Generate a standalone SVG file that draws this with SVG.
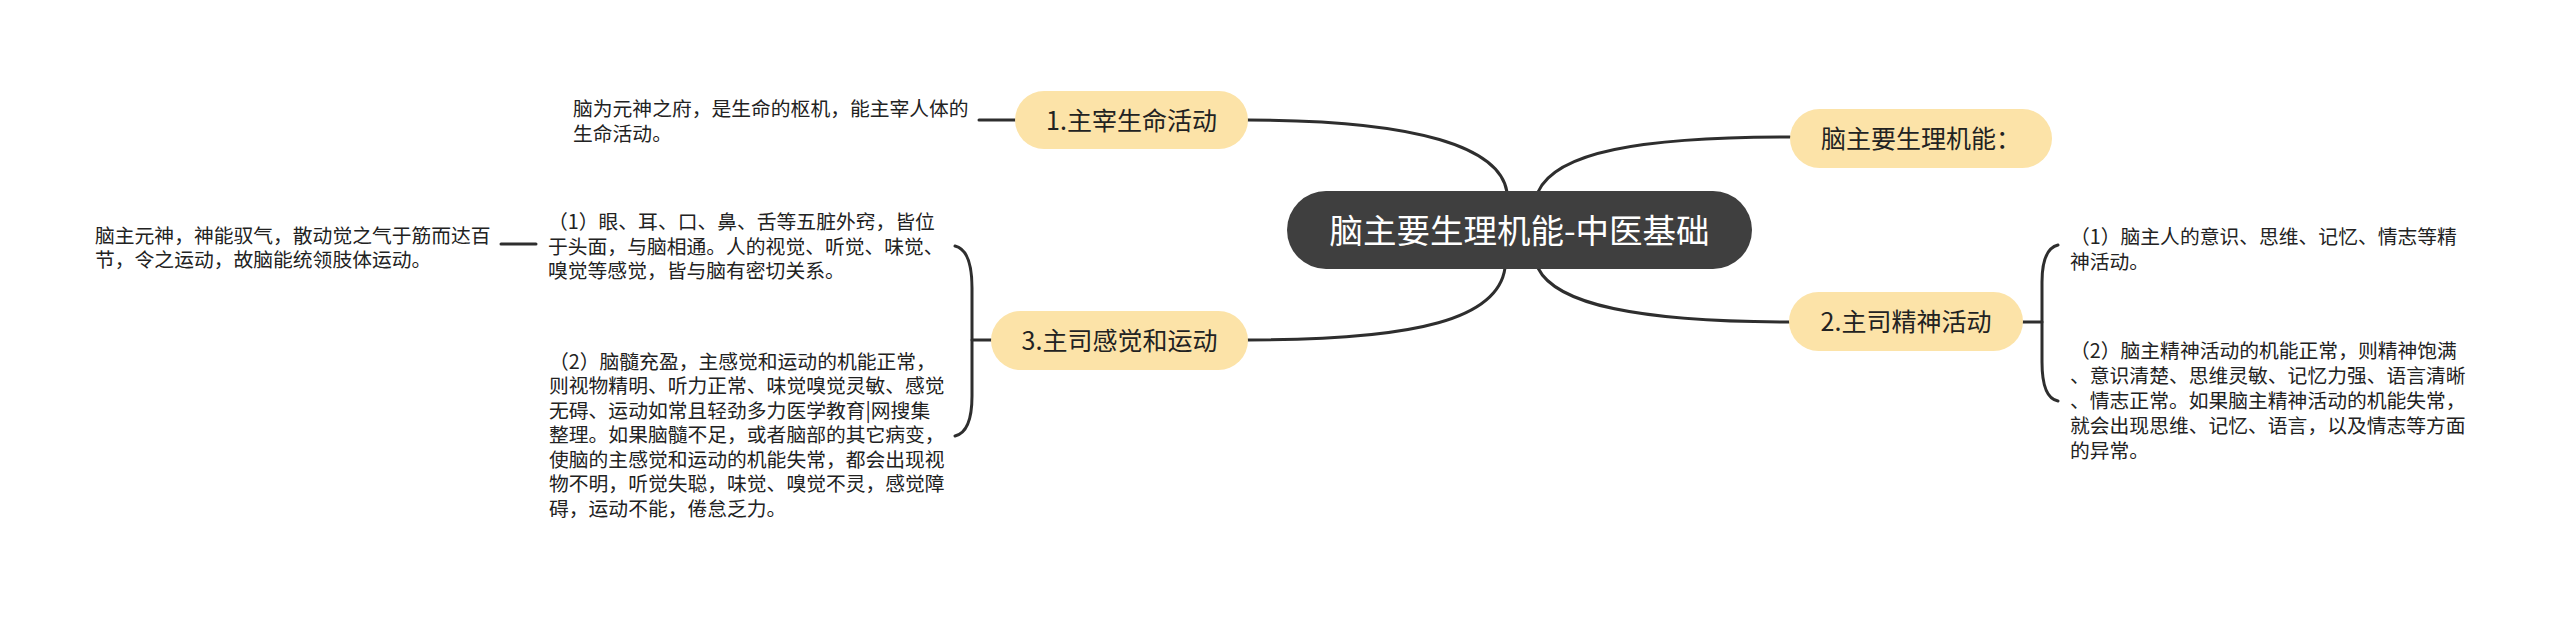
<svg xmlns="http://www.w3.org/2000/svg" width="2560" height="619" viewBox="0 0 2560 619">
<style>
.bg{fill:#ffffff}
.conn path{fill:none;stroke:#2e2e2e;stroke-width:3;stroke-linecap:round}
.topic{fill:#fce3a8}
.root{fill:#3f3f3f}
.tt{font-family:"Noto Sans CJK SC","Noto Sans",sans-serif;font-size:25px;fill:#222;text-anchor:middle}
.rt{font-family:"Noto Sans CJK SC","Noto Sans",sans-serif;font-size:33.5px;fill:#ffffff;text-anchor:middle}
.nt{font-family:"Noto Sans CJK SC","Noto Sans",sans-serif;font-size:19.8px;fill:#222}
</style>
<rect class="bg" x="0" y="0" width="2560" height="619"/>
<g id="connectors" class="conn">
<path d="M1507 192 C1500 148 1420 120 1248 120"/>
<path d="M1538 192 C1556 152 1640 137 1790 137"/>
<path d="M1538 268 C1556 305 1640 322 1789 322"/>
<path d="M1505 268 C1498 318 1420 340 1248 340"/>
<path d="M1015 120 L979 120"/>
<path d="M991 340 L972 340"/>
<path d="M955 246 Q972 250 972 288 L972 396 Q972 432 955 436"/>
<path d="M536 244 L501 244"/>
<path d="M2023 322 L2042 322"/>
<path d="M2058 245 Q2042 249 2042 282 L2042 362 Q2042 398 2058 401"/>
</g>
<g id="root">
<rect class="root" x="1287" y="191" width="465" height="78" rx="39"/>
<text class="rt" x="1519.5" y="242.7">脑主要生理机能-中医基础</text>
</g>
<g id="n-functions">
<rect class="topic" x="1790" y="109" width="262" height="59" rx="29.5"/>
<text class="tt" x="1921" y="148">脑主要生理机能：</text>
</g>
<g id="n-life">
<rect class="topic" x="1015" y="91" width="233" height="58" rx="29"/>
<text class="tt" x="1131.5" y="129.5">1.主宰生命活动</text>
</g>
<g id="n-spirit">
<rect class="topic" x="1789" y="292" width="234" height="59" rx="29.5"/>
<text class="tt" x="1906" y="331">2.主司精神活动</text>
</g>
<g id="n-sense">
<rect class="topic" x="991" y="311" width="257" height="59" rx="29.5"/>
<text class="tt" x="1119.5" y="350">3.主司感觉和运动</text>
</g>
<g id="n-life-text">
<text class="nt"><tspan x="573" y="115.5">脑为元神之府，是生命的枢机，能主宰人体的</tspan><tspan x="573" y="140.5">生命活动。</tspan></text>
</g>
<g id="n-sense-1">
<text class="nt"><tspan x="548" y="228.5">（1）眼、耳、口、鼻、舌等五脏外窍，皆位</tspan><tspan x="548" y="253.5">于头面，与脑相通。人的视觉、听觉、味觉、</tspan><tspan x="548" y="277.5">嗅觉等感觉，皆与脑有密切关系。</tspan></text>
</g>
<g id="n-sense-1a">
<text class="nt"><tspan x="95" y="242.5">脑主元神，神能驭气，散动觉之气于筋而达百</tspan><tspan x="95" y="266.5">节，令之运动，故脑能统领肢体运动。</tspan></text>
</g>
<g id="n-sense-2">
<text class="nt"><tspan x="549" y="368.5">（2）脑髓充盈，主感觉和运动的机能正常，</tspan><tspan x="549" y="393">则视物精明、听力正常、味觉嗅觉灵敏、感觉</tspan><tspan x="549" y="417.5">无碍、运动如常且轻劲多力医学教育|网搜集</tspan><tspan x="549" y="442">整理。如果脑髓不足，或者脑部的其它病变，</tspan><tspan x="549" y="466.5">使脑的主感觉和运动的机能失常，都会出现视</tspan><tspan x="549" y="491">物不明，听觉失聪，味觉、嗅觉不灵，感觉障</tspan><tspan x="549" y="515.5">碍，运动不能，倦怠乏力。</tspan></text>
</g>
<g id="n-spirit-1">
<text class="nt"><tspan x="2070" y="243.5">（1）脑主人的意识、思维、记忆、情志等精</tspan><tspan x="2070" y="269.3">神活动。</tspan></text>
</g>
<g id="n-spirit-2">
<text class="nt"><tspan x="2070" y="357.5">（2）脑主精神活动的机能正常，则精神饱满</tspan><tspan x="2070" y="382.5">、意识清楚、思维灵敏、记忆力强、语言清晰</tspan><tspan x="2070" y="407.5">、情志正常。如果脑主精神活动的机能失常，</tspan><tspan x="2070" y="432.5">就会出现思维、记忆、语言，以及情志等方面</tspan><tspan x="2070" y="457.5">的异常。</tspan></text>
</g>
</svg>
